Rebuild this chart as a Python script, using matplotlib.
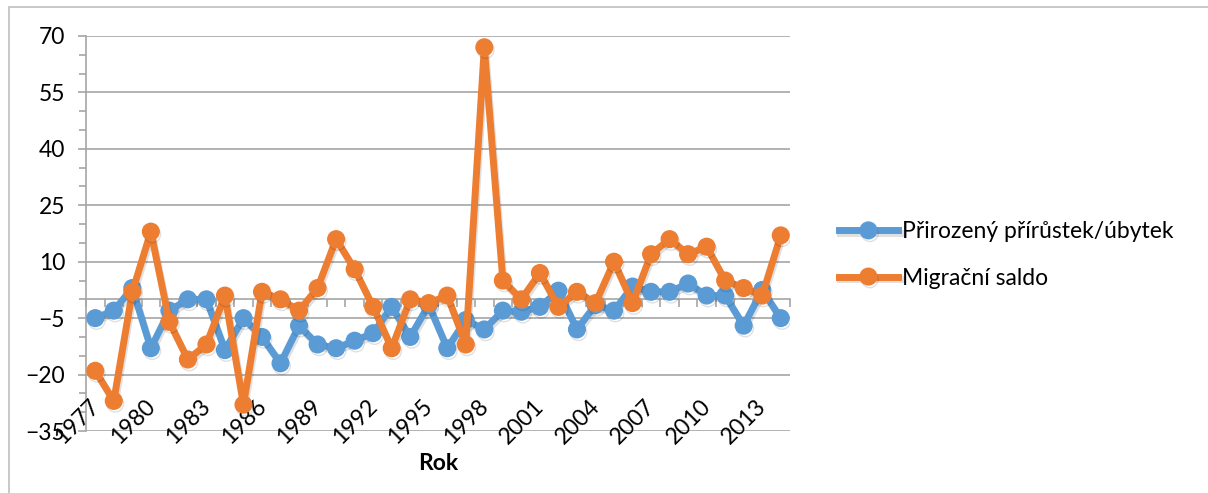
import numpy as np
import matplotlib
matplotlib.use("Agg")
from matplotlib import pyplot as plt
from matplotlib import patches, transforms
import matplotlib.patheffects as pe

plt.rcParams['font.family'] = ['Lato', 'DejaVu Sans']

years = list(range(1977, 2015))
natural = [-5, -3, 3, -13, -3, 0, 0, -13.5, -5, -10,
           -17, -7, -12, -13, -11, -9, -2, -10, -1.5, -13,
           -5.5, -8, -3, -3.3, -2, 2.3, -8, -1.5, -3, 3.4,
           2, 2, 4.2, 1, 1, -7, 2.5, -5]
migration = [-19, -27, 2, 18, -6, -16, -12, 1, -28, 2,
             0, -3, 3, 16, 8, -2, -13, 0, -1, 1,
             -12, 67, 5, 0, 7, -2, 2, -1, 10, -1,
             12, 16, 12, 14, 5, 3, 1, 17]
label_names = ['Přirozený přírůstek/úbytek', 'Migrační saldo']
tick_years = years[::3]

blue = '#5B9BD5'
orange = '#ED7D31'
grid_col = '#A6A6A6'
fs = 16.5

fig = plt.figure(figsize=(12.08, 4.93), dpi=100)
ax = fig.add_axes([86 / 1208, 1 - 431 / 493, 704 / 1208, 395 / 493])

# chart frame
fig.patches.append(patches.Rectangle((9 / 1208, -0.1), 1.2, 1.1 - 7 / 493,
                                     transform=fig.transFigure, fill=False,
                                     edgecolor='#BFBFBF', linewidth=1.2))

x = np.arange(len(years))
shadow = [pe.SimpleLineShadow(offset=(1, -2), alpha=0.12), pe.Normal()]
ax.plot(x, natural, color=blue, lw=5, marker='o', ms=12, zorder=3,
        label=label_names[0], path_effects=shadow, solid_joinstyle='round')
ax.plot(x, migration, color=orange, lw=5, marker='o', ms=12, zorder=4,
        label=label_names[1], path_effects=shadow, solid_joinstyle='round')

ax.set_xlim(-0.5, len(years) - 0.5)
ax.set_ylim(-35, 70)
ax.set_yticks(np.arange(-35, 71, 15))
ax.set_yticks(np.arange(-35, 71, 5), minor=True)
ax.yaxis.grid(True, color=grid_col, lw=1.2)
ax.set_axisbelow(True)

for s in ['top', 'right']:
    ax.spines[s].set_visible(False)
ax.spines['left'].set_color(grid_col)
ax.spines['left'].set_linewidth(1.2)
ax.spines['bottom'].set_position(('data', 0))
ax.spines['bottom'].set_color(grid_col)
ax.spines['bottom'].set_linewidth(1.2)

ax.set_xticks(np.arange(-0.5, len(years), 1))
ax.set_xticklabels([])
ax.tick_params(axis='x', direction='out', length=6, color=grid_col, width=1.2)
ax.tick_params(axis='y', which='both', direction='out', length=6,
               color=grid_col, width=1.2, labelsize=fs, pad=9)
ax.tick_params(axis='y', which='minor', length=5)

# category labels at the low end
off = transforms.offset_copy(ax.transData, fig=fig, x=-18, y=9, units='dots')
for yr in tick_years:
    ax.text(years.index(yr), -35, str(yr), rotation=45, ha='center',
            va='center', fontsize=fs, transform=off, clip_on=False)

fig.text(438 / 1208, 1 - 463 / 493, 'Rok', ha='center', va='center',
         fontsize=fs, fontweight='bold')

fig.legend(loc='center left', bbox_to_anchor=(818 / 1208, 1 - 255 / 493),
           frameon=False, fontsize=fs, handlelength=2.6, handletextpad=0.15,
           labelspacing=1.1)

fig.savefig('out.png', dpi=100)
